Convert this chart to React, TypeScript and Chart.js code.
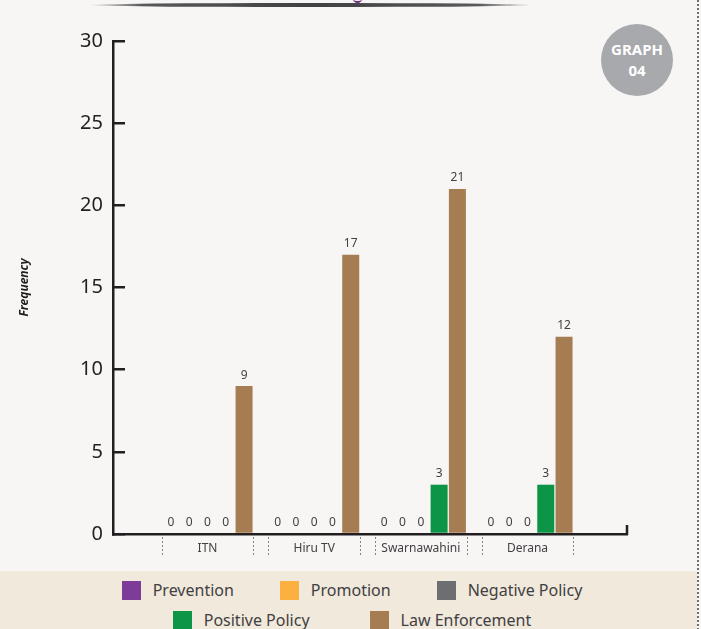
import { useEffect, useRef } from 'react';
import { Chart, registerables } from 'chart.js';

Chart.register(...registerables);

const CATEGORIES = ['ITN', 'Hiru TV', 'Swarnawahini', 'Derana'];

const PREVENTION = [0, 0, 0, 0];
const PROMOTION = [0, 0, 0, 0];
const NEGATIVE_POLICY = [0, 0, 0, 0];
const POSITIVE_POLICY = [0, 0, 3, 3];
const LAW_ENFORCEMENT = [9, 17, 21, 12];

const Y_TICKS = [0, 5, 10, 15, 20, 25, 30];

const SERIES = [
  { label: 'Prevention', values: PREVENTION, color: '#7d3c98' },
  { label: 'Promotion', values: PROMOTION, color: '#fbb040' },
  { label: 'Negative Policy', values: NEGATIVE_POLICY, color: '#6d6e71' },
  { label: 'Positive Policy', values: POSITIVE_POLICY, color: '#0c9447' },
  { label: 'Law Enforcement', values: LAW_ENFORCEMENT, color: '#a67c52' },
];

const FONT = '"Noto Sans", "Open Sans", sans-serif';
const INK = '#231f20';

// value labels, dashed group separators and the little end tick on the x axis
const overlayPlugin = {
  id: 'overlay',
  afterDraw(chart: any) {
    const { ctx, chartArea, scales } = chart;
    const xScale = scales.x;
    ctx.save();
    ctx.font = `12px ${FONT}`;
    ctx.fillStyle = '#414042';
    ctx.textAlign = 'center';
    ctx.textBaseline = 'bottom';
    SERIES.forEach((s, di) => {
      chart.getDatasetMeta(di).data.forEach((bar: any, i: number) => {
        ctx.fillText(String(s.values[i]), bar.x, bar.y - 5);
      });
    });

    ctx.strokeStyle = '#808285';
    ctx.lineWidth = 1;
    ctx.setLineDash([2, 2]);
    CATEGORIES.forEach((_, i) => {
      [-0.43, 0.43].forEach((d) => {
        const px = Math.round(xScale.getPixelForValue(i + d)) + 0.5;
        ctx.beginPath();
        ctx.moveTo(px, chartArea.bottom + 3);
        ctx.lineTo(px, chartArea.bottom + 23);
        ctx.stroke();
      });
    });

    ctx.setLineDash([]);
    ctx.strokeStyle = INK;
    ctx.lineWidth = 2.5;
    ctx.beginPath();
    ctx.moveTo(chartArea.right, chartArea.bottom + 1);
    ctx.lineTo(chartArea.right, chartArea.bottom - 9);
    ctx.stroke();
    ctx.restore();
  },
};

function GroupedBars() {
  const canvasRef = useRef<HTMLCanvasElement>(null);
  const chartRef = useRef<Chart | null>(null);

  useEffect(() => {
    if (!canvasRef.current) return;
    if (chartRef.current) chartRef.current.destroy();

    chartRef.current = new Chart(canvasRef.current, {
      type: 'bar',
      data: {
        datasets: SERIES.map((s) => ({
          label: s.label,
          data: s.values.map((v, i) => ({ x: i, y: v })),
          backgroundColor: s.color,
          borderWidth: 0,
          categoryPercentage: 0.857,
          barPercentage: 0.93,
        })),
      },
      options: {
        responsive: true,
        maintainAspectRatio: false,
        animation: false,
        layout: { padding: { left: 8, top: 41, right: 74, bottom: 6 } },
        plugins: {
          legend: { display: false },
          tooltip: { enabled: false },
        },
        scales: {
          x: {
            type: 'linear',
            offset: false,
            min: -0.886,
            max: 3.933,
            z: 1,
            afterBuildTicks: (scale: any) => {
              scale.ticks = CATEGORIES.map((_, i) => ({ value: i }));
            },
            afterFit: (scale: any) => {
              scale.height = 30;
            },
            grid: { display: false, drawTicks: false, offset: false },
            border: { color: INK, width: 2.5 },
            ticks: {
              autoSkip: false,
              maxRotation: 0,
              padding: 7,
              color: '#414042',
              font: { family: FONT, size: 12 },
              callback: (value: any) => CATEGORIES[value] ?? '',
            },
          },
          y: {
            min: Y_TICKS[0],
            max: Y_TICKS[Y_TICKS.length - 1],
            afterBuildTicks: (scale: any) => {
              scale.ticks = Y_TICKS.map((v) => ({ value: v }));
            },
            afterFit: (scale: any) => {
              scale.width = 105;
            },
            grid: {
              display: true,
              drawOnChartArea: false,
              drawTicks: true,
              tickLength: -12,
              color: INK,
              lineWidth: 2.5,
            },
            border: { color: INK, width: 2.5 },
            ticks: {
              padding: 22,
              color: INK,
              font: { family: FONT, size: 20 },
            },
            title: {
              display: true,
              text: 'Frequency',
              color: INK,
              padding: { top: 9, bottom: 0 },
              font: { family: FONT, size: 12, weight: 'bold', style: 'italic' },
            },
          },
        },
      },
      plugins: [overlayPlugin],
    } as any);

    return () => {
      chartRef.current?.destroy();
      chartRef.current = null;
    };
  }, []);

  return (
    <div style={{ position: 'absolute', left: 0, top: 0, width: 701, height: 570 }}>
      <canvas ref={canvasRef} />
    </div>
  );
}

function LegendRow({ items, top, gap }: { items: typeof SERIES; top: number; gap: number }) {
  return (
    <div
      style={{
        position: 'absolute',
        left: 0,
        top,
        width: 704,
        display: 'flex',
        justifyContent: 'center',
        gap,
      }}
    >
      {items.map((s) => (
        <div key={s.label} style={{ display: 'flex', alignItems: 'center', gap: 12 }}>
          <span style={{ width: 19, height: 19, background: s.color, display: 'inline-block' }} />
          <span style={{ fontSize: 16, lineHeight: '19px', color: '#414042' }}>{s.label}</span>
        </div>
      ))}
    </div>
  );
}

export default function App() {
  return (
    <div
      style={{
        position: 'fixed',
        left: 0,
        top: 0,
        width: 701,
        height: 629,
        background: '#f7f6f4',
        overflow: 'hidden',
        fontFamily: FONT,
      }}
    >
      <div
        style={{
          position: 'absolute',
          left: 89,
          top: 3,
          width: 443,
          height: 4,
          borderRadius: '50%',
          background: 'linear-gradient(to right, rgba(80,80,82,0), #58595b 12%, #414042 50%, #58595b 88%, rgba(80,80,82,0))',
        }}
      />
      <div
        style={{
          position: 'absolute',
          left: 353,
          top: -5,
          width: 9,
          height: 6,
          borderBottom: '2.5px solid #6b2c7a',
          borderRadius: '0 0 50% 50%',
        }}
      />
      <div
        style={{
          position: 'absolute',
          left: 601,
          top: 24,
          width: 72,
          height: 72,
          borderRadius: '50%',
          background: '#a7a9ac',
          color: '#ffffff',
          fontWeight: 700,
          fontSize: 15,
          lineHeight: '21px',
          textAlign: 'center',
          display: 'flex',
          flexDirection: 'column',
          justifyContent: 'center',
        }}
      >
        <div>GRAPH</div>
        <div>04</div>
      </div>
      <div
        style={{
          position: 'absolute',
          left: 0,
          top: 571,
          width: 697,
          height: 58,
          background: '#f1e9dc',
        }}
      >
        <LegendRow items={SERIES.slice(0, 3)} top={10} gap={46} />
        <LegendRow items={SERIES.slice(3)} top={40} gap={60} />
      </div>
      <GroupedBars />
      <div
        style={{
          position: 'absolute',
          left: 697,
          top: 0,
          width: 2,
          height: 629,
          background: 'repeating-linear-gradient(to bottom, #6d6e71 0 2px, transparent 2px 4px)',
        }}
      />
    </div>
  );
}
